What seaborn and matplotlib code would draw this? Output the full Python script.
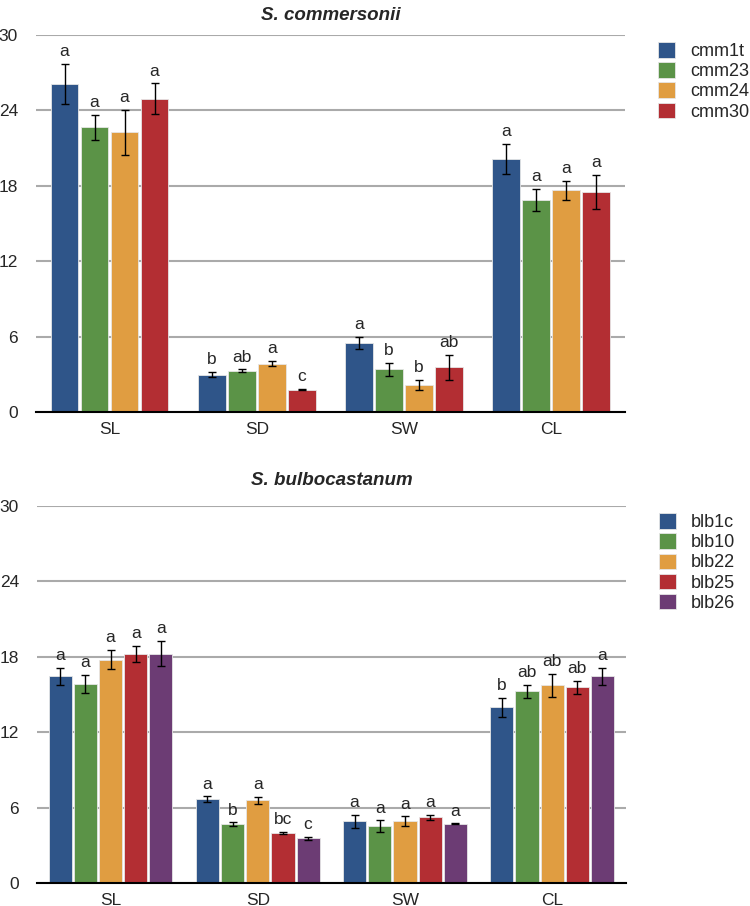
import matplotlib
matplotlib.use("Agg")
import matplotlib.pyplot as plt
import pandas as pd
import seaborn as sns

traits = ["SL", "SD", "SW", "CL"]
yticks = [0, 6, 12, 18, 24, 30]

# S. commersonii
cmm_lines = ["cmm1t", "cmm23", "cmm24", "cmm30"]
cmm_means = {
    "SL": [26.1, 22.65, 22.25, 24.95],
    "SD": [2.97, 3.28, 3.84, 1.78],
    "SW": [5.48, 3.39, 2.17, 3.57],
    "CL": [20.13, 16.86, 17.65, 17.54],
}
cmm_err = {
    "SL": [1.6, 1.0, 1.8, 1.2],
    "SD": [0.2, 0.1, 0.2, 0.05],
    "SW": [0.5, 0.5, 0.4, 1.0],
    "CL": [1.2, 0.9, 0.75, 1.35],
}
cmm_letters = {
    "SL": ["a", "a", "a", "a"],
    "SD": ["b", "ab", "a", "c"],
    "SW": ["a", "b", "b", "ab"],
    "CL": ["a", "a", "a", "a"],
}

# S. bulbocastanum
blb_lines = ["blb1c", "blb10", "blb22", "blb25", "blb26"]
blb_means = {
    "SL": [16.45, 15.84, 17.78, 18.26, 18.26],
    "SD": [6.68, 4.67, 6.57, 3.98, 3.58],
    "SW": [4.92, 4.5, 4.92, 5.22, 4.71],
    "CL": [13.97, 15.26, 15.74, 15.58, 16.45],
}
blb_err = {
    "SL": [0.69, 0.69, 0.74, 0.64, 0.98],
    "SD": [0.21, 0.15, 0.3, 0.1, 0.12],
    "SW": [0.52, 0.48, 0.38, 0.21, 0.03],
    "CL": [0.74, 0.52, 0.93, 0.52, 0.69],
}
blb_letters = {
    "SL": ["a", "a", "a", "a", "a"],
    "SD": ["a", "b", "a", "bc", "c"],
    "SW": ["a", "a", "a", "a", "a"],
    "CL": ["b", "ab", "ab", "ab", "a"],
}

colors = ["#2f5589", "#5b9347", "#e09d41", "#b32e33", "#6c3c74"]


def to_frame(lines, means, err, letters):
    rows = []
    for t in traits:
        for i, ln in enumerate(lines):
            rows.append({"trait": t, "line": ln, "mean": means[t][i],
                         "err": err[t][i], "letter": letters[t][i]})
    return pd.DataFrame(rows)


def draw_panel(ax, df, lines, title, width, title_pad):
    sns.barplot(data=df, x="trait", y="mean", hue="line", order=traits,
                hue_order=lines, palette=colors[:len(lines)], errorbar=None,
                saturation=1, width=width, gap=0.08, edgecolor="#e6e6e6",
                linewidth=0.6, ax=ax, zorder=3)
    bar_groups = list(ax.containers)
    for i, cont in enumerate(bar_groups):
        sub = df[df["line"] == lines[i]].set_index("trait").loc[traits]
        xs = [b.get_x() + b.get_width() / 2 for b in cont]
        ax.errorbar(xs, sub["mean"], yerr=sub["err"], fmt="none",
                    ecolor="black", elinewidth=1, capsize=3, capthick=1,
                    zorder=4)
        for x, m, e, lt in zip(xs, sub["mean"], sub["err"], sub["letter"]):
            ax.annotate(lt, (x, m + e), xytext=(0, 3.5),
                        textcoords="offset points", ha="center", va="bottom",
                        fontsize=12.5)
    ax.set_ylim(0, 30)
    ax.set_xlim(-0.5, 3.5)
    ax.set_yticks(yticks)
    ax.set_xlabel("")
    ax.set_ylabel("")
    ax.yaxis.grid(True, color="#aaaaaa", linewidth=1.5, zorder=0)
    ax.set_axisbelow(True)
    for s in ["top", "right", "left"]:
        ax.spines[s].set_visible(False)
    ax.spines["bottom"].set_color("black")
    ax.spines["bottom"].set_linewidth(1.5)
    ax.spines["bottom"].set_zorder(5)
    ax.tick_params(axis="y", length=0, pad=13, labelsize=12.5)
    ax.tick_params(axis="x", length=0, pad=7, labelsize=12.5)
    ax.set_title(title, fontsize=13.5, fontweight="bold", style="italic",
                 pad=title_pad)
    ax.legend(loc="upper left", bbox_to_anchor=(1.045, 1.0),
              frameon=False, fontsize=13, handlelength=0.94,
              handleheight=0.94, handletextpad=0.8, labelspacing=0.12,
              borderaxespad=0)


sns.set_style("white")
plt.rcParams["font.family"] = ["Liberation Sans", "DejaVu Sans"]

fig = plt.figure(figsize=(7.5, 9.06), dpi=100)
ax1 = fig.add_axes([0.048, 0.5453, 0.785, 0.416])
ax2 = fig.add_axes([0.0493, 0.0254, 0.785, 0.416])

draw_panel(ax1, to_frame(cmm_lines, cmm_means, cmm_err, cmm_letters),
           cmm_lines, "S. commersonii", 0.815, 11)
draw_panel(ax2, to_frame(blb_lines, blb_means, blb_err, blb_letters),
           blb_lines, "S. bulbocastanum", 0.855, 15)

fig.savefig("out.png", dpi=100)
